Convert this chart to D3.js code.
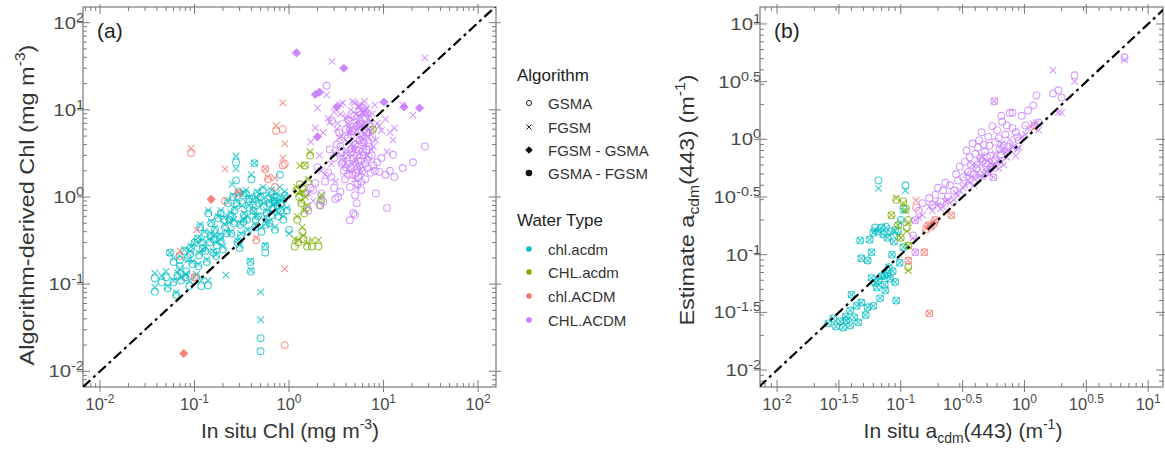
<!DOCTYPE html>
<html><head><meta charset="utf-8">
<script src="https://cdn.jsdelivr.net/npm/d3@7"></script>
<style>
body{margin:0;background:#fff}
svg{display:block}
text{font-family:"Liberation Sans",Arial,Helvetica,sans-serif}
</style></head>
<body><svg id="c" width="1165" height="452"></svg>
<script>
// ---------- categories ----------
const typeNames = ["chl.acdm","CHL.acdm","chl.ACDM","CHL.ACDM"];
const typeColors = ["#00BFC4","#7CAE00","#F8766D","#C77CFF"];
const algNames = ["GSMA","FGSM","FGSM - GSMA","GSMA - FGSM"];
const aTickExps = ["-2","-1","0","1","2"];
const bTickExps = ["-2","-1.5","-1","-0.5","0","0.5","1"];

// ---------- panel (a): rows are [in situ Chl, GSMA, FGSM] ----------
const aChlAcdm = [
[0.038,0.117,0.134],[0.038,0.082,0.092],[0.045,0.105,0.125],[0.050,0.120,0.140],[0.052,0.090,0.095],
[0.055,0.230,0.230],[0.060,0.105,0.110],[0.064,0.075,0.080],[0.066,0.125,0.135],[0.070,0.160,0.150],
[0.072,0.110,0.120],[0.078,0.240,0.250],[0.082,0.140,0.130],[0.085,0.200,0.190],[0.088,0.095,0.110],
[0.092,0.260,0.270],[0.095,0.170,0.180],[0.100,0.300,0.290],[0.105,0.120,0.130],[0.108,0.330,0.340],
[0.112,0.215,0.230],[0.118,0.095,0.110],[0.122,0.260,0.250],[0.128,0.380,0.400],[0.135,0.180,0.190],
[0.139,0.097,0.110],[0.145,0.300,0.320],[0.150,0.500,0.520],[0.158,0.230,0.240],[0.165,0.420,0.440],
[0.172,0.280,0.300],[0.177,0.570,0.600],[0.185,0.350,0.370],[0.190,0.650,0.700],[0.200,0.250,0.270],
[0.210,0.450,0.480],[0.215,null,0.127],[0.225,0.850,0.900],[0.235,0.550,0.520],[0.245,0.380,0.400],
[0.255,1.000,1.050],[0.265,0.700,0.750],[0.275,2.500,2.950],[0.275,1.550,2.100],[0.285,0.300,0.320],
[0.295,1.150,1.100],[0.305,0.480,0.500],[0.320,0.850,0.800],[0.335,0.620,0.650],[0.350,1.100,1.200],
[0.365,0.400,0.420],[0.380,0.950,1.000],[0.390,0.180,0.185],[0.395,0.140,0.145],[0.400,1.600,1.800],
[0.420,0.700,0.680],[0.430,2.450,2.450],[0.445,0.550,0.600],[0.460,1.100,1.150],[0.480,0.850,0.900],
[0.500,0.024,0.081],[0.500,0.017,0.039],[0.510,0.400,0.450],[0.530,1.200,1.300],[0.560,0.270,0.280],
[0.560,0.230,0.600],[0.580,0.650,0.700],[0.600,0.950,1.050],[0.620,0.500,0.520],[0.650,1.150,1.200],
[0.680,0.750,0.800],[0.710,0.420,0.450],[0.740,1.000,1.100],[0.770,0.600,0.650],[0.800,1.800,1.300],
[0.830,0.850,0.900],[0.870,0.550,0.600],[0.900,1.050,1.150],[0.950,0.700,0.750],[1.000,0.420,0.380],
[0.300,0.260,0.280],[0.140,0.650,0.700],[0.115,0.450,0.480],[0.060,0.180,0.200],[0.250,0.600,1.400],
[0.330,0.520,0.560],[0.450,0.800,1.000],[0.700,0.900,0.850],[0.160,0.330,0.360],
[0.220,0.380,0.400],[0.240,0.620,0.660],[0.260,0.500,0.550],[0.280,0.850,0.900],[0.310,0.360,0.380],
[0.330,1.050,1.100],[0.360,0.550,0.600],[0.380,0.750,0.800],[0.410,0.950,0.920],[0.440,0.450,0.480],
[0.470,0.600,0.620],[0.500,1.000,1.050],[0.540,0.780,0.850],[0.570,0.480,0.500],[0.620,0.850,0.900],
[0.660,0.620,0.660],[0.700,1.000,0.950],[0.750,0.800,0.850],[0.820,0.700,0.750],[0.880,0.950,1.000],
[0.070,0.190,0.210],[0.080,0.120,0.130],[0.090,0.220,0.240],[0.110,0.160,0.170],[0.120,0.300,0.320],
[0.130,0.240,0.260],[0.150,0.360,0.380],[0.170,0.210,0.220],[0.190,0.310,0.330],[0.205,0.550,0.580]
];
const aChlACDMlow = null;
const aCHLAcdm = [
[1.15,0.27,0.33],[1.25,0.30,0.32],[1.30,1.40,2.30],[1.47,2.30,2.35],[1.67,3.00,3.30],
[1.20,1.20,1.30],[1.28,1.00,1.10],[1.35,0.85,0.90],[1.40,1.25,1.15],[1.45,0.65,0.70],
[1.50,1.10,1.00],[1.55,0.75,0.80],[1.38,0.40,0.45],[1.42,0.33,0.36],[1.55,0.27,0.30],
[1.75,0.27,0.32],[2.05,0.27,0.32],[2.15,0.80,0.98],[2.20,0.92,1.05],[1.60,1.50,1.60],
[7.70,5.90,6.00],[1.22,0.55,0.60]
];
const aChlACDM = [
[0.092,3.20,3.60],[0.86,6.00,12.0],[0.73,5.70,6.60],[0.90,2.40,4.10],[0.86,2.30,2.80],
[0.21,0.90,2.10],[0.56,2.10,2.10],[0.71,1.30,1.65],[0.29,1.10,1.15],[0.106,null,0.42],
[0.070,0.21,0.24],[0.45,0.32,0.34],[0.90,0.020,0.150],[0.60,1.60,1.70],[0.100,0.12,0.12]
];
const aCHLACDM = [
[2.5,18.9,14.8],[2.85,7.5,36],[27.4,3.8,39.5],[2.0,2.2,10.5],[1.9,1.45,6.2],[1.7,1.27,4.3],
[2.3,0.88,5.5],[2.1,0.81,3.0],[2.6,1.9,8.0],[3.0,1.27,9.5],[3.3,1.0,7.0],[3.5,1.15,11.5],
[3.7,2.5,12.0],[3.9,1.6,4.5],[4.1,3.0,8.5],[4.4,0.54,6.0],[4.5,2.2,10.0],[4.7,1.8,12.5],
[4.8,0.65,3.5],[5.0,0.62,2.8],[5.1,3.5,9.0],[5.3,1.4,7.5],[5.4,2.6,11.0],[5.6,4.5,6.5],
[5.8,1.2,5.0],[6.0,2.0,9.5],[6.2,3.0,4.0],[6.4,1.6,7.0],[6.6,5.5,10.5],[6.8,2.15,8.0],
[7.0,3.8,6.0],[7.3,1.9,5.2],[7.6,4.8,9.0],[8.1,2.0,11.4],[8.3,1.1,4.5],[8.6,2.5,7.0],
[9.0,1.95,6.5],[10.9,0.75,3.3],[11.7,2.0,5.5],[12.6,3.05,4.5],[13.0,1.7,6.2],[16.0,2.15,11.4],
[20.5,2.5,8.7],[3.2,4.0,6.0],[3.4,5.5,4.8],[3.6,3.2,3.0],[4.0,6.0,8.0],[4.2,4.8,7.0],
[4.3,7.5,5.5],[4.6,5.2,4.0],[4.9,8.5,12.0],[5.2,6.5,5.8],[5.5,9.5,11.0],[5.7,7.0,8.2],
[5.9,5.0,6.8],[6.1,10.5,9.0],[6.3,6.0,12.5],[6.5,8.0,10.0],[6.9,4.2,5.0],[7.2,6.5,7.2],
[7.5,3.0,3.5],[3.0,2.8,3.2],[3.8,2.0,2.6],[4.4,1.3,2.0],[4.6,3.6,2.4],[5.0,1.05,1.6],
[5.2,0.85,1.3],[5.4,1.7,2.2],[5.6,2.3,3.2],[5.8,1.5,1.9],[4.8,2.8,3.8],[4.3,2.4,6.5],
[3.5,3.8,9.0],[2.7,3.5,7.2],[2.2,1.1,2.0],[6.0,3.3,4.6],[6.7,2.7,3.0],[7.8,2.3,3.8],
[9.5,2.8,5.8],[10.5,1.8,7.8],[2.4,1.5,1.8],[3.1,0.95,1.5],[2.8,1.7,2.4],[1.6,0.7,1.1],
[1.8,1.2,0.9],[4.0,2.2,3.5],[4.5,3.2,5.5],[5.0,4.0,6.5],[5.3,2.1,4.2],[5.5,3.4,8.5],
[5.8,2.6,10.0],[6.2,4.2,6.2],[6.6,3.5,9.2],[4.7,5.8,7.8],[5.1,1.9,2.6],[6.4,2.4,5.3],
[4.2,1.8,3.0],[3.6,2.4,5.0],[7.0,2.9,8.8],[5.6,6.8,11.5]
];
// FGSM - GSMA (filled diamonds): [in situ, estimate, water type index]
const aDiamonds = [
[0.15,0.94,2],[0.077,0.016,2],[1.2,45,3],[3.8,30,3],[1.9,15,3],[2.1,16,3],
[3.2,10.8,3],[2.0,4.9,3],[10.1,12.3,3],[16.5,10.8,3],[24,10.5,3]
];

// ---------- panel (b): rows are [in situ acdm(443), GSMA, FGSM] ----------
const bChlAcdm = [
[0.0259,0.0254,0.0254],[0.0284,0.028,0.028],[0.030,0.0239,0.0239],[0.0324,0.0264,0.0264],[0.0342,0.0234,0.0234],
[0.0362,0.027,0.027],[0.039,0.0244,0.0244],[0.042,0.0286,0.0286],[0.039,0.0329,0.0329],[0.0453,0.0259,0.0259],
[0.048,0.0385,0.0385],[0.054,0.035,0.035],[0.075,0.049,0.049],[0.092,0.040,0.040],[0.058,0.063,0.063],
[0.062,0.057,0.057],[0.066,0.060,0.060],[0.070,0.065,0.065],[0.074,0.055,0.055],[0.078,0.068,0.068],
[0.082,0.062,0.062],[0.086,0.072,0.072],[0.090,0.058,0.058],[0.064,0.052,0.052],[0.048,0.093,0.093],
[0.054,0.089,0.089],[0.047,0.133,0.133],[0.056,0.135,0.135],[0.060,0.155,0.155],[0.066,0.160,0.160],
[0.072,0.150,0.150],[0.078,0.140,0.140],[0.083,0.160,0.155],[0.088,0.130,0.130],[0.066,0.440,0.376],
[0.109,0.400,0.360],[0.105,0.116,0.116],[0.095,0.160,0.150],[0.100,0.200,0.190],[0.105,0.250,0.240],
[0.098,0.085,0.085],[0.085,0.100,0.100],[0.040,0.045,0.045],[0.044,0.036,0.036],[0.036,0.029,0.029],
[0.052,0.030,0.030],[0.060,0.036,0.036],[0.068,0.042,0.042],[0.080,0.078,0.078],[0.058,0.105,0.105],
[0.070,0.172,0.172],[0.062,0.172,0.165],[0.076,0.175,0.170],[0.090,0.165,0.160],[0.074,0.066,0.066]
];
const bCHLAcdm = [
[0.084,0.22,0.22],[0.092,0.30,0.31],[0.105,0.29,0.28],[0.110,0.25,0.24],[0.115,0.20,0.19],
[0.112,0.17,0.16],[0.115,0.12,0.12],[0.115,0.078,0.073],[0.100,0.14,0.14],[0.095,0.18,0.18]
];
const bChlACDM = [
[0.133,0.257,0.296],[0.167,0.180,0.180],[0.175,0.175,0.175],[0.185,0.185,0.190],[0.190,0.200,0.200],
[0.170,0.031,0.031],[0.115,0.089,0.089],[0.256,0.220,0.220],[0.155,0.105,0.105],[1.20,1.32,1.25],
[0.160,0.165,0.170]
];
const bCHLACDM = [
[6.45,5.14,4.9],[1.70,2.50,3.97],[2.54,3.59,3.18],[1.88,2.66,1.71],[1.25,2.40,1.40],[1.18,1.97,1.35],
[0.57,2.14,2.14],[1.07,1.78,1.25],[1.02,1.32,1.10],[0.95,1.60,1.05],[0.88,1.05,0.82],[0.80,1.25,0.85],
[0.76,1.70,1.00],[0.70,1.10,0.78],[0.66,1.42,0.92],[0.63,0.82,0.66],[0.60,1.20,0.65],[0.58,0.95,0.75],
[0.55,1.30,0.60],[0.53,0.72,0.62],[0.51,1.05,0.55],[0.49,0.62,0.52],[0.47,0.90,0.50],[0.45,1.15,0.72],
[0.44,0.68,0.48],[0.42,0.85,0.58],[0.41,0.56,0.50],[0.40,0.75,0.45],[0.38,0.92,0.60],[0.37,0.60,0.47],
[0.36,0.70,0.42],[0.35,0.52,0.44],[0.34,0.80,0.50],[0.33,0.64,0.40],[0.32,0.47,0.38],[0.30,0.58,0.36],
[0.29,0.44,0.33],[0.27,0.36,0.30],[0.25,0.40,0.28],[0.24,0.32,0.30],[0.22,0.36,0.26],[0.21,0.29,0.25],
[0.19,0.33,0.28],[0.18,0.27,0.24],[0.17,0.31,0.26],[0.15,0.28,0.22],[0.14,0.24,0.21],[0.131,0.199,0.199],
[0.131,0.105,0.105],[0.126,0.147,0.14],[0.90,0.98,0.85],[0.52,0.88,0.50],[0.48,0.78,0.55],[0.46,0.64,0.47],
[0.62,1.02,0.56],[0.68,0.88,0.60],[0.56,0.47,0.47],[0.72,1.32,0.70],[0.39,0.50,0.40],[0.43,0.98,0.66],
[0.50,0.70,0.65],[0.54,0.58,0.56],[0.65,0.74,0.63],[0.74,0.86,0.80],[0.28,0.50,0.34],[0.23,0.42,0.29],
[0.20,0.38,0.27],[2.00,2.30,1.70],[1.30,1.40,1.20],[0.80,1.70,0.90],[0.65,1.60,0.80],[0.85,1.15,0.72],
[0.58,0.66,0.58]
];

// ---------- drawing ----------
const svg = d3.select("#c");
const AXIS = "#7a7a7a", TXT = "#4a4a4a";
let clipN = 0;
const diamondPath = r => `M0,${-r}L${r},0L0,${r}L${-r},0Z`;

function rich(sel, parts, base, small){
  let shift = 0;
  parts.forEach(p=>{
    const t = sel.append("tspan").text(p.t);
    const target = p.sup ? -base*0.42 : (p.sub ? base*0.25 : 0);
    t.attr("dy", target - shift);
    if (p.sup || p.sub) t.attr("font-size", small);
    shift = target;
  });
}

function panel(cfg){
  const x = d3.scaleLog().domain(cfg.xDom).range([cfg.x0, cfg.x1]);
  const y = d3.scaleLog().domain(cfg.yDom).range([cfg.y1, cfg.y0]);
  const g = svg.append("g");
  const id = "clip" + (clipN++);
  g.append("clipPath").attr("id", id).append("rect")
    .attr("x", cfg.x0).attr("y", cfg.y0).attr("width", cfg.x1-cfg.x0).attr("height", cfg.y1-cfg.y0);

  function minors(dom){
    const out=[]; const lo=Math.floor(Math.log10(dom[0])), hi=Math.ceil(Math.log10(dom[1]));
    for(let d=lo; d<=hi; d++) for(let k=2;k<=9;k++){const v=k*Math.pow(10,d); if(v>dom[0]&&v<dom[1]) out.push(v);}
    return out;
  }
  const tk = g.append("g").attr("stroke", AXIS).attr("stroke-width", 1);
  minors(cfg.xDom).forEach(v=>{
    const px=x(v);
    tk.append("line").attr("x1",px).attr("x2",px).attr("y1",cfg.y1).attr("y2",cfg.y1-4);
    tk.append("line").attr("x1",px).attr("x2",px).attr("y1",cfg.y0).attr("y2",cfg.y0+4);
  });
  minors(cfg.yDom).forEach(v=>{
    const py=y(v);
    tk.append("line").attr("x1",cfg.x0).attr("x2",cfg.x0+4).attr("y1",py).attr("y2",py);
    tk.append("line").attr("x1",cfg.x1).attr("x2",cfg.x1-4).attr("y1",py).attr("y2",py);
  });
  cfg.exps.forEach(e=>{
    const v=Math.pow(10,+e), px=x(v), py=y(v);
    if (v>=cfg.xDom[0] && v<=cfg.xDom[1]){
      tk.append("line").attr("x1",px).attr("x2",px).attr("y1",cfg.y1+5).attr("y2",cfg.y1-7);
      tk.append("line").attr("x1",px).attr("x2",px).attr("y1",cfg.y0-3).attr("y2",cfg.y0+7);
      const t=g.append("text").attr("x",px).attr("y",cfg.y1+23).attr("text-anchor","middle")
        .attr("fill",TXT).attr("font-size",16.5);
      rich(t,[{t:"10"},{t:e,sup:true}],16.5,12);
    }
    if (v>=cfg.yDom[0] && v<=cfg.yDom[1]){
      tk.append("line").attr("x1",cfg.x0-6).attr("x2",cfg.x0+7).attr("y1",py).attr("y2",py);
      tk.append("line").attr("x1",cfg.x1-7).attr("x2",cfg.x1+5).attr("y1",py).attr("y2",py);
      const t=g.append("text").attr("transform",`translate(${cfg.x0+1},${py+6}) scale(1.2,1)`)
        .attr("text-anchor","end").attr("fill",TXT).attr("font-size",17);
      rich(t,[{t:"10"},{t:e,sup:true}],17,12);
    }
  });
  g.append("rect").attr("x",cfg.x0).attr("y",cfg.y0).attr("width",cfg.x1-cfg.x0).attr("height",cfg.y1-cfg.y0)
    .attr("fill","none").attr("stroke",AXIS).attr("stroke-width",1.2);

  const pg = g.append("g").attr("clip-path",`url(#${id})`);
  cfg.series.forEach((rows,ti)=>{
    const col = typeColors[ti];
    rows.forEach(([xv,gv,fv])=>{
      if (gv!=null) pg.append("circle").attr("cx",x(xv)).attr("cy",y(gv)).attr("r",3.4)
        .attr("fill","none").attr("stroke",col).attr("stroke-width",1.1).attr("opacity",0.75);
      if (fv!=null) pg.append("path").attr("transform",`translate(${x(xv)},${y(fv)})`)
        .attr("d","M-3.3,-3.3L3.3,3.3M-3.3,3.3L3.3,-3.3")
        .attr("stroke",col).attr("stroke-width",1.1).attr("opacity",0.75);
    });
  });
  if (cfg.dia){
    cfg.dia.forEach(([xv,ev,ti])=>{
      pg.append("path").attr("transform",`translate(${x(xv)},${y(ev)})`)
        .attr("d",diamondPath(4.6)).attr("fill",typeColors[ti]).attr("opacity",0.9);
    });
  }
  const lo = Math.min(cfg.xDom[0],cfg.yDom[0]), hi=Math.max(cfg.xDom[1],cfg.yDom[1]);
  pg.append("line").attr("x1",x(lo)).attr("y1",y(lo)).attr("x2",x(hi)).attr("y2",y(hi))
    .attr("stroke","#000").attr("stroke-width",2.2).attr("stroke-dasharray","10,4,3,4");

  g.append("text").attr("x",cfg.x0+14).attr("y",cfg.y0+31).attr("font-size",21).attr("fill","#222").text(cfg.tag);
  const xt=g.append("text").attr("x",cfg.xtx).attr("y",438).attr("text-anchor","middle").attr("font-size",21).attr("fill","#333");
  rich(xt,cfg.xTitle,21,14);
  const yt=g.append("text").attr("transform",`translate(${cfg.ytx},${cfg.yty}) rotate(-90) scale(1.12,1)`)
    .attr("text-anchor","middle").attr("font-size",21).attr("fill","#333");
  rich(yt,cfg.yTitle,21,14);
}

panel({
  x0:83,x1:496,y0:7,y1:387,
  xDom:[Math.pow(10,-2.18),Math.pow(10,2.19)], yDom:[Math.pow(10,-2.18),Math.pow(10,2.18)],
  exps:aTickExps, tag:"(a)",
  xtx:290, ytx:34, yty:205,
  xTitle:[{t:"In situ Chl (mg m"},{t:"-3",sup:true},{t:")"}],
  yTitle:[{t:"Algorithm-derived Chl (mg m"},{t:"-3",sup:true},{t:")"}],
  series:[aChlAcdm, aCHLAcdm, aChlACDM, aCHLACDM],
  dia:aDiamonds
});

panel({
  x0:760,x1:1163,y0:7,y1:387,
  xDom:[Math.pow(10,-2.138),Math.pow(10,1.12)], yDom:[Math.pow(10,-2.147),Math.pow(10,1.147)],
  exps:bTickExps, tag:"(b)",
  xtx:963, ytx:694, yty:200,
  xTitle:[{t:"In situ a"},{t:"cdm",sub:true},{t:"(443) (m"},{t:"-1",sup:true},{t:")"}],
  yTitle:[{t:"Estimate a"},{t:"cdm",sub:true},{t:"(443) (m"},{t:"-1",sup:true},{t:")"}],
  series:[bChlAcdm, bCHLAcdm, bChlACDM, bCHLACDM]
});

// ---------- legend ----------
const lg = svg.append("g");
lg.append("text").attr("x",517).attr("y",81).attr("font-size",17).attr("fill","#222").text("Algorithm");
const algY = [103,127,150,173];
algNames.forEach((n,i)=>{
  const cy=algY[i], cx=529;
  if(i===0) lg.append("circle").attr("cx",cx).attr("cy",cy).attr("r",2.6).attr("fill","none").attr("stroke","#222").attr("stroke-width",1);
  if(i===1) lg.append("path").attr("d",`M${cx-2.6},${cy-2.6}L${cx+2.6},${cy+2.6}M${cx-2.6},${cy+2.6}L${cx+2.6},${cy-2.6}`).attr("stroke","#222").attr("stroke-width",1);
  if(i===2) lg.append("path").attr("transform",`translate(${cx},${cy})`).attr("d",diamondPath(3.8)).attr("fill","#111");
  if(i===3) lg.append("circle").attr("cx",cx).attr("cy",cy).attr("r",3.3).attr("fill","#111");
  lg.append("text").attr("x",548).attr("y",cy+5.5).attr("font-size",15).attr("fill","#333").text(n);
});
lg.append("text").attr("x",517).attr("y",226).attr("font-size",17).attr("fill","#222").text("Water Type");
const wtY = [249,272,296,320];
typeNames.forEach((n,i)=>{
  lg.append("circle").attr("cx",529).attr("cy",wtY[i]).attr("r",2.8).attr("fill",typeColors[i]);
  lg.append("text").attr("x",548).attr("y",wtY[i]+5.5).attr("font-size",15).attr("fill","#333").text(n);
});
</script></body></html>
